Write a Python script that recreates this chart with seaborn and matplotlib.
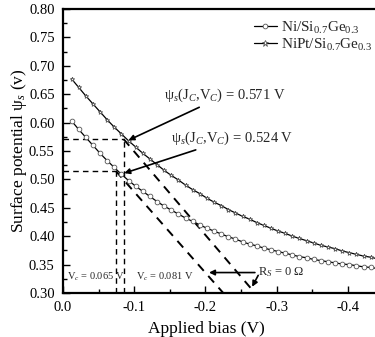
import matplotlib
matplotlib.use("Agg")
import matplotlib.pyplot as plt
import seaborn as sns
import pandas as pd
from matplotlib.ticker import MultipleLocator, FormatStrFormatter
from matplotlib.lines import Line2D

# ---- data ----
bias = [-0.012, -0.022, -0.032, -0.042, -0.052, -0.062, -0.072, -0.082, -0.092, -0.102,
        -0.112, -0.122, -0.132, -0.142, -0.152, -0.162, -0.172, -0.182, -0.192, -0.202,
        -0.212, -0.222, -0.232, -0.242, -0.252, -0.262, -0.272, -0.282, -0.292, -0.302,
        -0.312, -0.322, -0.332, -0.342, -0.352, -0.362, -0.372, -0.382, -0.392, -0.402,
        -0.412, -0.422, -0.432, -0.442]
psi_ni = [0.603, 0.588, 0.574, 0.560, 0.546, 0.533, 0.521, 0.509, 0.498, 0.488,
          0.479, 0.470, 0.461, 0.453, 0.446, 0.439, 0.432, 0.426, 0.420, 0.414,
          0.409, 0.404, 0.399, 0.395, 0.390, 0.386, 0.383, 0.379, 0.376, 0.373,
          0.370, 0.367, 0.364, 0.362, 0.359, 0.357, 0.355, 0.353, 0.351, 0.350,
          0.348, 0.346, 0.345, 0.343]
psi_nipt = [0.677, 0.662, 0.647, 0.633, 0.619, 0.605, 0.592, 0.580, 0.568, 0.557,
            0.546, 0.536, 0.526, 0.516, 0.507, 0.499, 0.490, 0.482, 0.475, 0.467,
            0.460, 0.454, 0.447, 0.441, 0.435, 0.430, 0.424, 0.419, 0.414, 0.409,
            0.405, 0.400, 0.396, 0.392, 0.388, 0.384, 0.381, 0.378, 0.374, 0.371,
            0.368, 0.365, 0.363, 0.360]
series_names = ["Ni/Si$_{\\mathrm{0.7}}$Ge$_{\\mathrm{0.3}}$",
                "NiPt/Si$_{\\mathrm{0.7}}$Ge$_{\\mathrm{0.3}}$"]

# critical points (Vc, psi_c)
vc_ni, psic_ni = -0.074, 0.515
vc_nipt, psic_nipt = -0.085, 0.571
# ideal (Rs = 0) lines end points
ideal_ni_x = [-0.074, -0.225]
ideal_ni_y = [0.515, 0.300]
ideal_nipt_x = [-0.085, -0.266]
ideal_nipt_y = [0.571, 0.305]

df = pd.DataFrame({
    "bias": bias * 2,
    "psi": psi_ni + psi_nipt,
    "sample": [series_names[0]] * len(bias) + [series_names[1]] * len(bias),
})

sns.set_theme(style="ticks")
plt.rcParams["font.family"] = ["Liberation Serif", "DejaVu Serif"]
plt.rcParams["mathtext.fontset"] = "custom"
plt.rcParams["mathtext.rm"] = "Liberation Serif"
plt.rcParams["mathtext.it"] = "Liberation Serif:italic"
plt.rcParams["axes.unicode_minus"] = False

fig = plt.figure(figsize=(3.75, 3.37), dpi=100)
ax = fig.add_axes([63/375, 1-293/337, 1-63/375, (293-9)/337])

sns.lineplot(data=df, x="bias", y="psi", hue="sample", style="sample",
             markers=["o", "*"], dashes=False, palette=["black", "black"],
             linewidth=0.9, markersize=3.4, markerfacecolor="white",
             markeredgecolor="#555555", markeredgewidth=0.6,
             legend=False, ax=ax, zorder=3)

dash = dict(color="black", lw=1.4, linestyle=(0, (4.5, 3.5)))
ax.plot(ideal_ni_x, ideal_ni_y, **dash, zorder=2)
ax.plot(ideal_nipt_x, ideal_nipt_y, **dash, zorder=2)

thin = dict(color="black", lw=1.0, linestyle=(0, (4, 3)))
ax.plot([0.0, vc_nipt], [psic_nipt, psic_nipt], **thin)
ax.plot([vc_nipt, vc_nipt], [0.30, psic_nipt], **thin)
ax.plot([0.0, vc_ni], [psic_ni, psic_ni], **thin)
ax.plot([vc_ni, vc_ni], [0.30, psic_ni], **thin)

ax.set_xlim(0.0, -0.438)
ax.set_ylim(0.30, 0.80)
ax.xaxis.set_major_locator(MultipleLocator(0.1))
ax.xaxis.set_minor_locator(MultipleLocator(0.05))
ax.yaxis.set_major_locator(MultipleLocator(0.05))
ax.yaxis.set_minor_locator(MultipleLocator(0.025))
ax.xaxis.set_major_formatter(FormatStrFormatter("%.1f"))
ax.yaxis.set_major_formatter(FormatStrFormatter("%.2f"))
ax.tick_params(which="both", direction="in", top=False, right=False,
               labelsize=10.5, width=1.0, color="black", labelcolor="black")
ax.tick_params(which="major", length=5, pad=6)
ax.tick_params(which="minor", length=3)
for s in ["left", "bottom", "top"]:
    ax.spines[s].set_linewidth(1.6)
    ax.spines[s].set_color("black")
ax.spines["right"].set_visible(False)

ax.set_xlabel("Applied bias (V)", fontsize=12.5, color="black")
ax.set_ylabel("Surface potential \u03c8$_{s}$ (v)", fontsize=12.5, color="black")
ax.xaxis.set_label_coords(0.458, -0.1)
ax.yaxis.set_label_coords(-0.11, 0.5)

# legend
handles = [Line2D([], [], color="black", lw=0.9, marker="o", markersize=3.4,
                  markerfacecolor="white", markeredgecolor="#555555", markeredgewidth=0.6),
           Line2D([], [], color="black", lw=0.9, marker="*", markersize=4.5,
                  markerfacecolor="white", markeredgecolor="#555555", markeredgewidth=0.6)]
ax.legend(handles, series_names, loc="upper right", bbox_to_anchor=(1.02, 0.995),
          frameon=False, fontsize=11, handlelength=1.5, handletextpad=0.25,
          labelspacing=0.05, borderaxespad=0.2)

# annotations
arrow = dict(arrowstyle="-|>", color="black", lw=1.2, mutation_scale=8,
             shrinkA=0, shrinkB=0)
ax.annotate("\u03c8$_{s}$(J$_{C}$,V$_{C}$) = 0.571 V", xy=(-0.092, 0.569),
            xytext=(-0.142, 0.648), fontsize=10.5, va="center", ha="left",
            arrowprops=arrow)
ax.annotate("\u03c8$_{s}$(J$_{C}$,V$_{C}$) = 0.524 V", xy=(-0.086, 0.511),
            xytext=(-0.152, 0.573), fontsize=10.5, va="center", ha="left",
            arrowprops=arrow)
ax.annotate("R$_{S}$ = 0 \u03a9", xy=(-0.205, 0.336),
            xytext=(-0.274, 0.336), fontsize=9, va="center", ha="left",
            arrowprops=arrow)
ax.annotate("", xy=(-0.2655, 0.311), xytext=(-0.274, 0.331),
            arrowprops=arrow)
ax.text(-0.006, 0.328, "V$_{c}$ = 0.065 V", fontsize=7.5, va="center", ha="left")
ax.text(-0.102, 0.328, "V$_{c}$ = 0.081 V", fontsize=7.5, va="center", ha="left")

fig.savefig("out.png", dpi=100)
